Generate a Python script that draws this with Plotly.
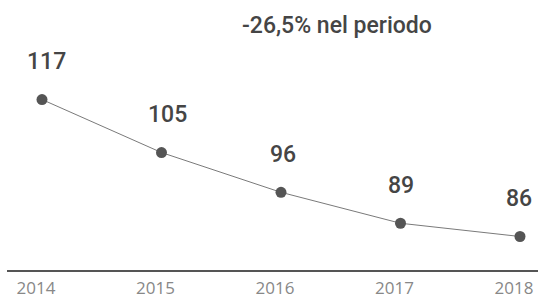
import plotly.graph_objects as go

years = [2014, 2015, 2016, 2017, 2018]
values = [117, 105, 96, 89, 86]
labels = ["117", "105", "96", "89", "86"]
label_xshift = [4, 6, 2, 0, -1]
title_text = "-26,5% nel periodo"

fig = go.Figure()
fig.add_trace(go.Scatter(
    x=years, y=values, mode="lines+markers",
    line=dict(color="#7a7a7a", width=1),
    marker=dict(size=11, color="#555555"),
    hoverinfo="skip", showlegend=False,
))

for x, y, t, dx in zip(years, values, labels, label_xshift):
    fig.add_annotation(x=x, y=y, text=t, showarrow=False, yshift=38, xshift=dx,
                       font=dict(family="Roboto", size=23, color="#454545", weight=500))

fig.add_annotation(xref="paper", yref="paper", x=0.6224, y=1.0, yshift=-25,
                   yanchor="middle", text=title_text, showarrow=False,
                   font=dict(family="Roboto", size=23, color="#454545", weight=500))

fig.update_layout(
    width=538, height=299,
    margin=dict(l=7, r=0, t=0, b=25),
    paper_bgcolor="white", plot_bgcolor="white",
    xaxis=dict(range=[2013.7071, 2018.1506], tickvals=years, ticktext=[str(y) for y in years],
               showgrid=False, zeroline=False, showline=True, linecolor="#555555", linewidth=1.5,
               tickfont=dict(family="Open Sans", size=17, color="#888888"), ticks="",
               ticklabelstandoff=2, ticklabelshift=-6),
    yaxis=dict(range=[78.42, 139.52], visible=False, showgrid=False, zeroline=False),
)

fig.write_html("out.html",
               config={"displayModeBar": False, "staticPlot": True},
               post_script="document.body.style.margin='0';document.body.style.overflow='hidden';")
